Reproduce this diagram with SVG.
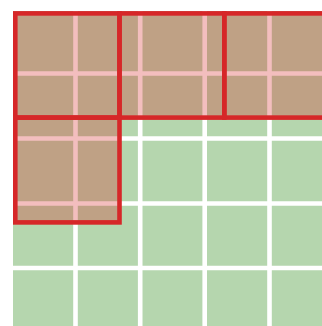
<svg xmlns="http://www.w3.org/2000/svg" width="322" height="326" viewBox="0 0 322 326">
<style>
.grid{stroke:#ffffff;stroke-width:4.6}
.tile{fill:#d62728;fill-opacity:0.3;stroke:#d62728;stroke-width:4.6}
</style>
<rect x="0" y="0" width="322" height="326" fill="#ffffff"/>
<g id="background">
<rect x="13" y="11" width="320" height="320" fill="#b5d6ae"/>
<g class="grid">
<line x1="75.5" y1="0" x2="75.5" y2="326"/>
<line x1="140.2" y1="0" x2="140.2" y2="326"/>
<line x1="204.7" y1="0" x2="204.7" y2="326"/>
<line x1="269.5" y1="0" x2="269.5" y2="326"/>
<line x1="0" y1="73.5" x2="322" y2="73.5"/>
<line x1="0" y1="138.5" x2="322" y2="138.5"/>
<line x1="0" y1="203.5" x2="322" y2="203.5"/>
<line x1="0" y1="268" x2="322" y2="268"/>
</g>
<rect x="0" y="0" width="13" height="326" fill="#ffffff"/>
<rect x="0" y="0" width="322" height="11" fill="#ffffff"/>
</g>
<g id="tile1"><rect class="tile" x="15.3" y="13.4" width="104.2" height="104.2"/></g>
<g id="tile2"><rect class="tile" x="119.5" y="13.4" width="104.8" height="104.2"/></g>
<g id="tile3"><rect class="tile" x="224.3" y="13.4" width="104.5" height="104.2"/></g>
<g id="tile4"><rect class="tile" x="15.3" y="117.6" width="104.2" height="104.8"/></g>
<g id="connectors"></g>
</svg>
